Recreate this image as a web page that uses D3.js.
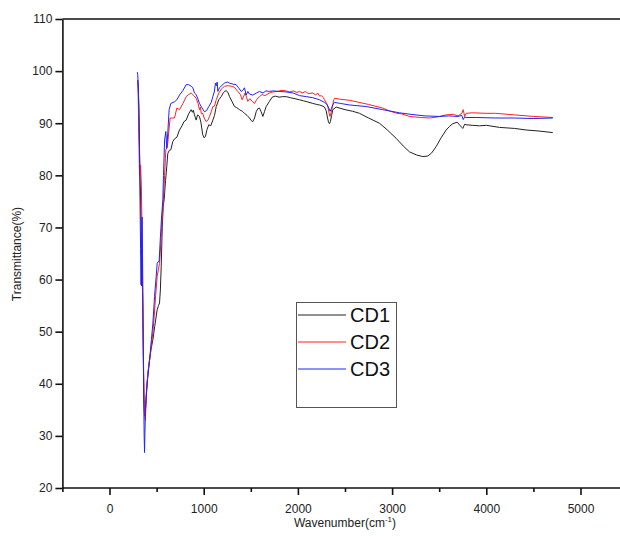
<!DOCTYPE html>
<html lang="en">
<head>
<meta charset="UTF-8">
<title>FTIR CD1 CD2 CD3</title>
<script src="https://d3js.org/d3.v7.min.js"></script>
<style>
    body { margin: 0; background: #fff; font-family: Arial, "Liberation Sans", sans-serif; }
    .axis path, .axis line { stroke: #111; stroke-width: 1.6px; }
    .axis text { font-size: 12px; fill: #222; font-family: Arial, "Liberation Sans", sans-serif; }
</style>
</head>
<body>
<svg width="620" height="540"></svg>
<script>
// series names and colours
const seriesNames = ["CD1", "CD2", "CD3"];
const seriesColors = ["#222222", "#ff2020", "#2020ff"];

// tick values
const xTicks = [0, 1000, 2000, 3000, 4000, 5000];
const xMinorTicks = [-500, 500, 1500, 2500, 3500, 4500];
const yTicks = [20, 30, 40, 50, 60, 70, 80, 90, 100, 110];

// [wavenumber, transmittance]
const cd1 = [
    [300, 98.3], [305, 97], [312, 93], [318, 86], [324, 80], [330, 76], [336, 70], [341, 58.8],
    [346, 62], [352, 56], [358, 47], [364, 38], [370, 34.5], [376, 33.8], [382, 35], [390, 38],
    [400, 40.5], [420, 44], [440, 46.5], [460, 48.4], [480, 51], [506, 54.2], [520, 55], [531, 55.5],
    [540, 58], [549, 62.5], [560, 70], [570, 74], [580, 75.3], [595, 79], [608, 81.7], [619, 84.2],
    [635, 84.8], [651, 84.9], [672, 86.5], [690, 87], [715, 87.3], [743, 88.7], [770, 89.5], [790, 90.3],
    [814, 90.6], [840, 91.8], [867, 92.6], [880, 92.1], [890, 92.5], [902, 91.6], [920, 90.6], [935, 91.6],
    [955, 91.3], [970, 90.2], [990, 87.8], [1005, 87.2], [1019, 87.5], [1035, 88.8], [1054, 89.7], [1075, 89.5],
    [1097, 90.6], [1115, 91.5], [1133, 93.2], [1160, 94.5], [1186, 95.1], [1210, 95.9], [1239, 96.3], [1260, 95.8],
    [1274, 95.1], [1300, 94.2], [1327, 93.2], [1350, 93], [1380, 92.6], [1410, 92.3], [1433, 91.9], [1460, 91.5],
    [1486, 91], [1505, 90.5], [1521, 90.3], [1540, 91], [1557, 92.2], [1575, 92.8], [1592, 92.9], [1610, 92.2],
    [1628, 91.3], [1645, 92.2], [1663, 93.2], [1698, 94.2], [1727, 95], [1760, 95.2], [1800, 95], [1840, 95.1],
    [1876, 95.1], [1920, 94.9], [1970, 94.7], [2017, 94.5], [2060, 94.3], [2100, 94.1], [2158, 93.8], [2200, 93.6],
    [2229, 93.5], [2260, 93.3], [2282, 93.1], [2300, 92.4], [2315, 91], [2325, 90.2], [2335, 89.9], [2345, 90.3],
    [2358, 91.5], [2371, 92.6], [2406, 93.1], [2500, 92.6], [2580, 92.3], [2654, 91.9], [2750, 91], [2866, 90],
    [2950, 88.7], [3043, 87.1], [3120, 85.6], [3185, 84.5], [3260, 83.9], [3326, 83.6], [3379, 83.7], [3420, 84.3],
    [3467, 85.5], [3520, 87.2], [3574, 88.7], [3610, 89.4], [3644, 89.9], [3690, 90.2], [3715, 89.7], [3740, 89.2],
    [3750, 89], [3770, 89.8], [3786, 89.7], [3850, 89.6], [3928, 89.5], [4000, 89.6], [4140, 89.2], [4300, 89],
    [4423, 88.7], [4560, 88.5], [4706, 88.2]
];

const cd2 = [
    [298, 98], [303, 96.5], [308, 92], [313, 86], [318, 80], [323, 79.8], [330, 82], [338, 78],
    [345, 70], [352, 58], [360, 45], [368, 37], [374, 34], [380, 33], [386, 35.5], [395, 39],
    [410, 42.5], [430, 45], [445, 47.5], [460, 49.7], [475, 53], [490, 57], [506, 60.6], [520, 62],
    [531, 63.1], [545, 67], [560, 72], [573, 75.3], [585, 80], [598, 84.9], [615, 85.5], [630, 88.5],
    [644, 91], [660, 91], [690, 91], [715, 92.9], [743, 92.6], [780, 93.8], [814, 95.1], [840, 95.5],
    [867, 95.8], [895, 95.3], [920, 94.8], [940, 93.8], [955, 92.6], [965, 93.1], [975, 91.8], [990, 91.9],
    [1005, 91], [1026, 90.3], [1045, 90.6], [1062, 91.3], [1080, 92.2], [1097, 93.2], [1115, 93.3], [1133, 94.5],
    [1161, 95.8], [1190, 96.6], [1221, 97.1], [1260, 97.2], [1292, 97.1], [1327, 96.9], [1362, 96.1], [1390, 95.5],
    [1408, 94.5], [1425, 95.2], [1440, 95.8], [1455, 95], [1468, 94.2], [1490, 94.7], [1515, 94.2], [1539, 93.8],
    [1565, 94.6], [1592, 95.1], [1620, 95.5], [1650, 95.3], [1698, 95.8], [1734, 96], [1780, 96.1], [1830, 96.3],
    [1876, 96.2], [1910, 96], [1950, 96.2], [1990, 95.9], [2017, 96.1], [2050, 95.8], [2080, 96.1], [2110, 95.7],
    [2158, 95.8], [2190, 95.4], [2210, 95.8], [2230, 95.2], [2250, 95.3], [2270, 94.9], [2282, 94.5], [2305, 93.8],
    [2320, 93], [2333, 91.8], [2342, 91.3], [2352, 92], [2365, 93], [2378, 94.3], [2389, 94.8], [2450, 94.6],
    [2548, 94.4], [2650, 94], [2750, 93.6], [2902, 92.9], [2980, 92.3], [3050, 91.9], [3100, 91.8], [3185, 91.3],
    [3300, 91.1], [3397, 91], [3480, 91.2], [3574, 91.6], [3650, 91.7], [3700, 91.4], [3740, 91.9], [3755, 92.6],
    [3770, 91.3], [3786, 91.9], [3850, 92], [3999, 91.9], [4100, 91.9], [4300, 91.6], [4500, 91.3], [4706, 91.1]
];

const cd3 = [
    [295, 99.8], [300, 99.3], [306, 97], [312, 92], [318, 85], [324, 75], [330, 66], [335, 59],
    [340, 66], [346, 72], [352, 62], [358, 48], [363, 38], [368, 30], [372, 26.8], [376, 30.5],
    [382, 35], [390, 37.5], [405, 41], [425, 44.5], [445, 48.5], [460, 51.5], [478, 56.7], [495, 60.5],
    [506, 63.1], [515, 63.4], [527, 63.5], [540, 68], [553, 72], [566, 75.3], [573, 80], [585, 86.8],
    [598, 88.4], [608, 85.2], [620, 88.5], [633, 92.6], [651, 93.8], [690, 94.1], [715, 94.5], [743, 95.4],
    [780, 96.3], [814, 97.4], [840, 97.4], [867, 97.1], [885, 96.8], [902, 95.8], [920, 95.5], [940, 94.6],
    [955, 93.8], [980, 93], [1008, 92.2], [1030, 92.4], [1054, 93.2], [1080, 94], [1097, 95.1], [1112, 96],
    [1125, 97.7], [1135, 97.2], [1143, 97.9], [1150, 96.1], [1168, 96.8], [1195, 97.3], [1221, 97.7], [1250, 97.9],
    [1274, 97.7], [1310, 97.5], [1345, 97.4], [1370, 96.8], [1398, 96.1], [1415, 96.3], [1433, 96.8], [1451, 95.4],
    [1468, 96.1], [1486, 95.6], [1521, 95.4], [1560, 95.8], [1592, 96.1], [1630, 95.8], [1660, 96.2], [1698, 96.1],
    [1734, 96.2], [1800, 96.1], [1876, 96], [1950, 95.8], [2017, 95.3], [2090, 95.1], [2158, 94.9], [2229, 94.5],
    [2282, 94], [2310, 93.6], [2330, 92.8], [2342, 92.3], [2355, 92.8], [2372, 93.6], [2389, 94], [2450, 93.8],
    [2550, 93.5], [2725, 93.2], [2900, 92.6], [3078, 92], [3200, 91.7], [3350, 91.4], [3503, 91.3], [3600, 91.4],
    [3700, 91.3], [3740, 91.5], [3755, 90.7], [3770, 91.2], [3786, 91.1], [3900, 91.1], [4100, 91], [4300, 91],
    [4500, 90.9], [4706, 91]
];

const seriesData = [cd1, cd2, cd3];

const svg = d3.select("svg");

const x = d3.scaleLinear().domain([-500, 5500]).range([62.4, 627.6]);
const y = d3.scaleLinear().domain([20, 110]).range([488, 19]);

// top frame line
svg.append("line")
    .attr("x1", x(-500)).attr("x2", 620)
    .attr("y1", y(110)).attr("y2", y(110))
    .attr("stroke", "#111").attr("stroke-width", 1.6);

// clip to plot
svg.append("clipPath").attr("id", "clip")
    .append("rect")
    .attr("x", x(-500)).attr("y", y(110))
    .attr("width", 620 - x(-500)).attr("height", y(20) - y(110));

const line = d3.line().x(d => x(d[0])).y(d => y(d[1]));

const plot = svg.append("g").attr("clip-path", "url(#clip)");
seriesData.forEach((s, i) => {
    plot.append("path")
        .datum(s)
        .attr("fill", "none")
        .attr("stroke", seriesColors[i])
        .attr("stroke-width", 1)
        .attr("stroke-linejoin", "round")
        .attr("d", line);
});

// minor x ticks
svg.append("g")
    .attr("class", "axis")
    .attr("transform", `translate(0,${y(20)})`)
    .call(d3.axisBottom(x).tickValues(xMinorTicks).tickSize(4).tickFormat(""))
    .select(".domain").remove();

// x axis
const xAxis = svg.append("g")
    .attr("class", "axis")
    .attr("transform", `translate(0,${y(20)})`)
    .call(d3.axisBottom(x).tickValues(xTicks).tickSize(7).tickPadding(9).tickSizeOuter(0).tickFormat(d => d));
xAxis.select(".domain").attr("d", `M${x(-500)},0H620`);

// y axis
svg.append("g")
    .attr("class", "axis")
    .attr("transform", `translate(${x(-500)},0)`)
    .call(d3.axisLeft(y).tickValues(yTicks).tickSize(7).tickPadding(3).tickSizeOuter(0).tickFormat(d => d));

// axis titles
const xt = svg.append("text")
    .attr("x", 345).attr("y", 527)
    .attr("text-anchor", "middle")
    .attr("font-size", 12).attr("fill", "#222");
xt.append("tspan").text("Wavenumber(cm");
xt.append("tspan").attr("font-size", 8).attr("dy", -5).text("-1");
xt.append("tspan").attr("dy", 5).text(")");

svg.append("text")
    .attr("transform", "translate(21,254) rotate(-90)")
    .attr("text-anchor", "middle")
    .attr("font-size", 12).attr("fill", "#222")
    .text("Transmittance(%)");

// legend
const legend = svg.append("g");
legend.append("rect")
    .attr("x", 296.5).attr("y", 302.5)
    .attr("width", 100).attr("height", 105)
    .attr("fill", "none").attr("stroke", "#555").attr("stroke-width", 1);
seriesNames.forEach((name, i) => {
    const ly = 315 + i * 27;
    legend.append("line")
        .attr("x1", 298).attr("x2", 346)
        .attr("y1", ly).attr("y2", ly)
        .attr("stroke", seriesColors[i]).attr("stroke-width", 1);
    legend.append("text")
        .attr("x", 350).attr("y", ly + 7)
        .attr("font-size", 20).attr("fill", "#111")
        .text(name);
});
</script>
</body>
</html>
